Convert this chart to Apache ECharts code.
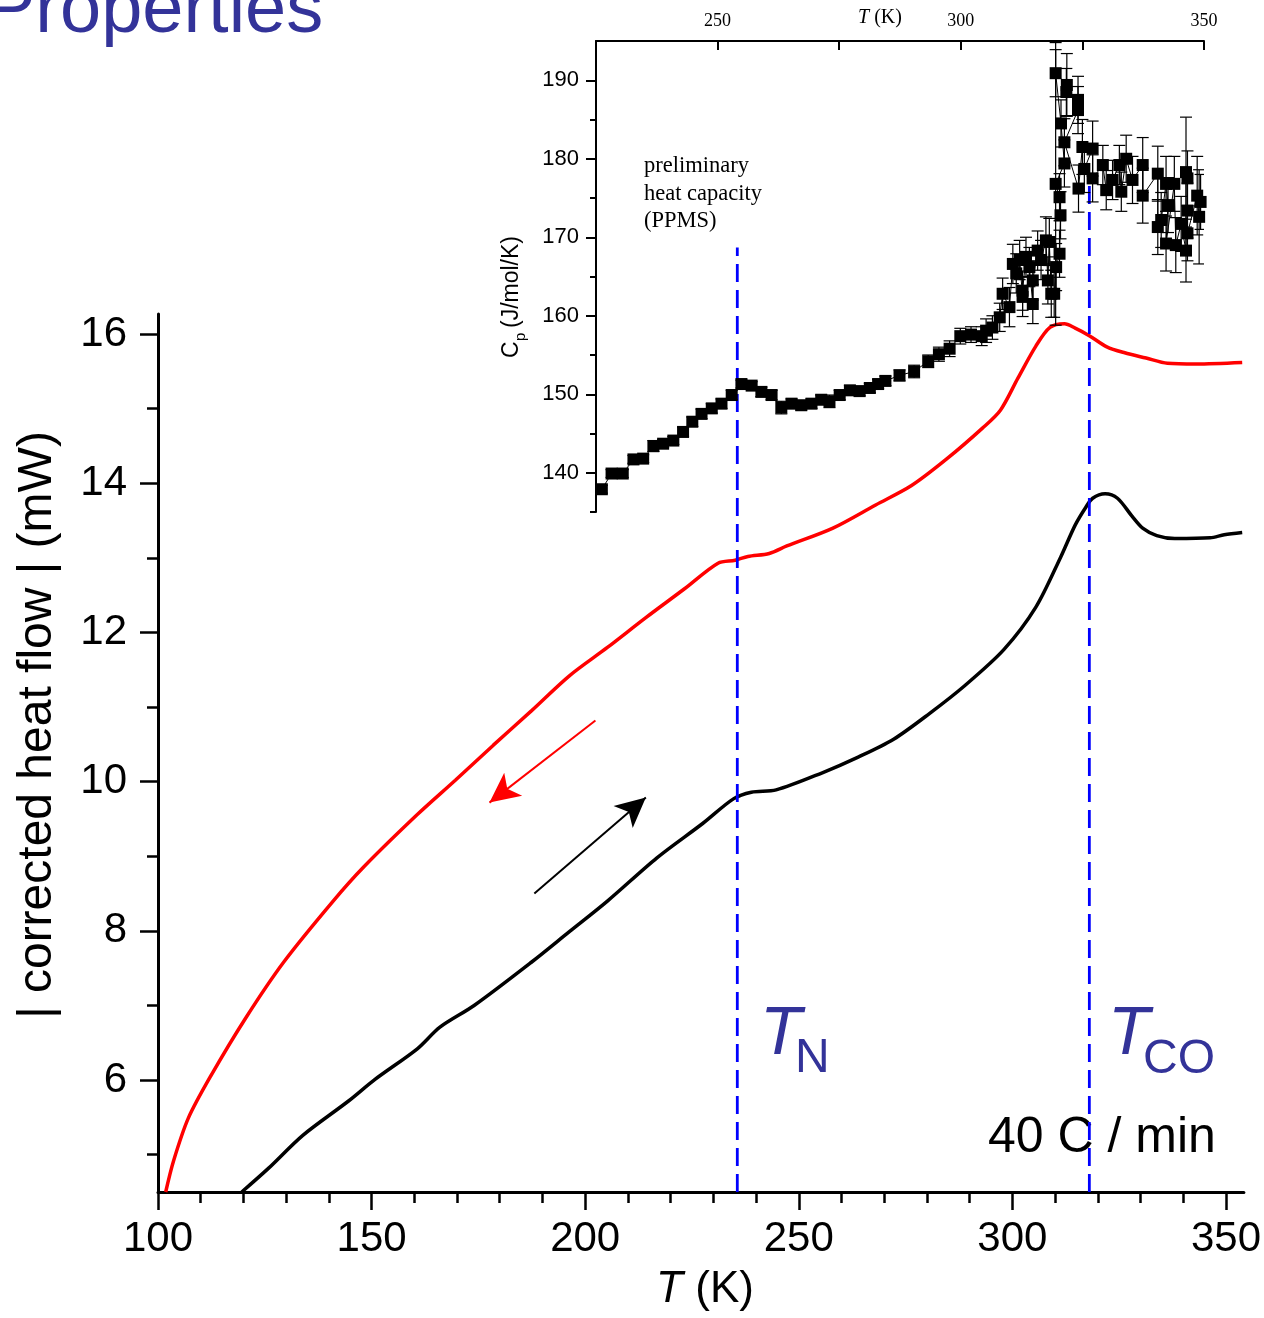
<!DOCTYPE html>
<html><head><meta charset="utf-8">
<script src="https://cdn.jsdelivr.net/npm/echarts@6/dist/echarts.min.js"></script>
<style>html,body{margin:0;padding:0;background:#fff}#c{width:1264px;height:1318px}</style>
</head><body><div id="c"></div>
<script>
// ---- data: DSC corrected heat flow (main panel) ----
const redT = [101.8, 103.6, 107.1, 112.5, 120.5, 129.4, 141.0, 148.2, 160.7, 169.6, 178.5, 187.4, 196.3, 205.2, 214.2, 223.1, 231.1, 235.1, 238.1, 243.1, 247.2, 258.0, 268.0, 276.4, 284.7, 293.0, 297.2, 301.3, 305.5, 308.8, 312.2, 314.7, 318.0, 322.1, 326.3, 331.3, 336.3, 343.0, 353.8];
const redV = [4.5, 4.91, 5.49, 6.07, 6.83, 7.58, 8.40, 8.86, 9.56, 10.02, 10.49, 10.95, 11.42, 11.80, 12.20, 12.58, 12.93, 12.97, 13.02, 13.06, 13.16, 13.40, 13.71, 13.97, 14.33, 14.74, 14.98, 15.41, 15.84, 16.09, 16.14, 16.08, 15.98, 15.83, 15.75, 15.68, 15.61, 15.60, 15.62];
const blackT = [119.6, 125.9, 133.9, 144.6, 150.8, 160.7, 166.0, 174.0, 187.4, 196.3, 205.2, 216.8, 227.5, 234.7, 238.9, 244.7, 255.5, 263.9, 272.2, 280.5, 288.9, 298.0, 305.5, 311.3, 314.7, 317.2, 318.8, 321.7, 324.6, 328.0, 330.5, 333.8, 338.0, 346.3, 349.6, 353.8];
const blackV = [4.5, 4.82, 5.26, 5.72, 6.01, 6.42, 6.71, 7.00, 7.58, 7.99, 8.40, 8.98, 9.44, 9.77, 9.86, 9.89, 10.12, 10.33, 10.57, 10.91, 11.29, 11.77, 12.34, 13.01, 13.44, 13.68, 13.80, 13.86, 13.80, 13.56, 13.40, 13.30, 13.26, 13.27, 13.31, 13.34];

// ---- data: preliminary heat capacity (PPMS), inset ----
const cpT = [226.2, 228.2, 230.5, 232.7, 234.7, 236.8, 238.8, 240.9, 242.9, 244.8, 246.7, 248.8, 250.8, 252.9, 254.9, 257.0, 259.0, 261.1, 263.1, 265.2, 267.2, 269.3, 271.3, 273.0, 275.1, 277.2, 279.2, 281.3, 283.0, 284.5, 287.4, 290.4, 293.3, 295.5, 297.7, 299.9, 302.1, 304.3, 305.2, 306.5, 308.0, 308.6, 310.0, 310.7, 311.4, 312.1, 312.7, 312.7, 313.4, 314.1, 314.8, 314.8, 315.8, 316.5, 317.5, 317.9, 318.2, 318.6, 319.2, 319.6, 320.3, 320.5, 320.3, 319.5, 321.3, 320.6, 319.5, 321.8, 321.7, 324.1, 324.1, 321.3, 324.2, 325.0, 327.1, 325.4, 327.1, 329.2, 329.9, 331.2, 332.6, 333.0, 334.0, 335.3, 337.4, 337.4, 340.5, 340.5, 341.2, 342.2, 342.6, 342.2, 343.9, 344.2, 345.3, 346.3, 346.3, 346.6, 346.6, 346.6, 348.6, 349.0, 349.3];
const cpV = [137.9, 139.9, 139.9, 141.7, 141.8, 143.4, 143.7, 144.1, 145.2, 146.5, 147.5, 148.2, 148.8, 149.9, 151.3, 151.1, 150.3, 149.9, 148.3, 148.8, 148.6, 148.8, 149.3, 149.1, 149.9, 150.5, 150.4, 150.8, 151.3, 151.7, 152.4, 152.9, 154.2, 155.1, 155.8, 157.4, 157.6, 157.4, 158.1, 158.5, 159.8, 162.8, 161.1, 166.6, 165.4, 167.1, 162.4, 163.2, 167.5, 166.2, 161.5, 164.5, 168.3, 167.1, 169.6, 164.5, 169.4, 162.8, 162.8, 166.2, 167.9, 172.8, 175.1, 176.8, 179.4, 184.5, 190.9, 189.4, 188.5, 187.5, 186.2, 182.1, 176.2, 181.5, 181.3, 178.7, 177.5, 179.2, 176.0, 177.3, 179.2, 175.8, 180.0, 177.3, 179.2, 175.3, 178.1, 171.3, 172.2, 176.8, 174.1, 169.2, 176.8, 169.0, 171.7, 168.3, 178.3, 177.5, 173.4, 170.5, 175.3, 172.6, 174.5];
const cpErr = [0.5, 0.5, 0.5, 0.5, 0.5, 0.7, 0.5, 0.5, 0.6, 0.6, 0.6, 0.6, 0.6, 0.6, 0.5, 0.5, 0.6, 0.6, 0.8, 0.6, 0.6, 0.6, 0.6, 0.8, 0.6, 0.6, 0.6, 0.6, 0.6, 0.6, 0.7, 0.8, 0.8, 0.9, 1.0, 1.0, 1.0, 1.2, 1.5, 1.5, 1.8, 2.0, 2.5, 2.5, 2.5, 2.5, 2.5, 2.5, 2.5, 2.5, 2.5, 2.5, 2.5, 2.5, 3, 3, 3, 3, 3, 3, 3, 3, 3, 18, 3, 3, 3, 4, 3, 3, 3, 3, 3, 3.5, 3.5, 3, 3, 2.5, 2.5, 2.5, 2.5, 2.5, 3, 3, 3.5, 3.5, 3.5, 3.5, 3.5, 3.5, 3.5, 3.5, 3.5, 3.5, 3.5, 4, 7, 3.5, 3.5, 3.5, 5, 6, 3.5];

// ---- tick values ----
const mainXTicks = [100, 150, 200, 250, 300, 350];
const mainXMinor = [110, 120, 130, 140, 160, 170, 180, 190, 210, 220, 230, 240, 260, 270, 280, 290, 310, 320, 330, 340];
const mainYTicks = [6, 8, 10, 12, 14, 16];
const mainYMinor = [5, 7, 9, 11, 13, 15];
const insetYTicks = [140, 150, 160, 170, 180, 190];
const insetYMinor = [135, 145, 155, 165, 175, 185];

// ---- annotations ----
const transitionT = [235.1, 317.2];      // T_N, T_CO dashed lines (main T scale)
const transitionTop = [17.16, 18.13];    // upper end of the dashed lines (main y units)
const yBase = 4.5;
const arrowRed = [[202.4, 10.82], [177.6, 9.72]];
const arrowBlack = [[188.1, 8.50], [214.2, 9.79]];

const SANS = "'Liberation Sans', Arial, Helvetica, sans-serif";
const SERIF = "'Liberation Serif', 'Times New Roman', serif";
const zip = (a, b) => a.map((v, i) => [v, b[i]]);
const BLUE = '#333399';

function errRender(params, api) {
  const x = api.value(0), lo = api.value(1), hi = api.value(2);
  const p1 = api.coord([x, hi]), p2 = api.coord([x, lo]);
  const c = 6, st = {stroke: '#000', lineWidth: 1.2};
  return {type: 'group', children: [
    {type: 'line', shape: {x1: p1[0], y1: p1[1], x2: p2[0], y2: p2[1]}, style: st},
    {type: 'line', shape: {x1: p1[0] - c, y1: p1[1], x2: p1[0] + c, y2: p1[1]}, style: st},
    {type: 'line', shape: {x1: p2[0] - c, y1: p2[1], x2: p2[0] + c, y2: p2[1]}, style: st}
  ]};
}

function arrowML(pts, color) {
  return {
    silent: true, animation: false,
    symbol: ['none', 'arrow'],
    label: {show: false},
    lineStyle: {color: color, width: 2, type: 'solid'},
    emphasis: {disabled: true},
    data: [[{coord: pts[0], symbol: 'none'}, {coord: pts[1], symbol: 'arrow', symbolSize: [22, 30]}]]
  };
}

const txt = (o) => ({type: 'text', silent: true, ...o});
const st = (text, font, fill, align, extra) => Object.assign({text, font, fill, align, verticalAlign: 'middle', textAlign: align, textVerticalAlign: 'middle'}, extra || {});

const option = {
  animation: false,
  backgroundColor: '#fff',
  grid: [
    {left: 158, top: 314, width: 1090, height: 878},
    {left: 596, top: 41, width: 608, height: 471},
    {left: 158, top: 170, width: 1090, height: 1022}
  ],
  xAxis: [
    {gridIndex: 0, type: 'value', position: 'bottom', min: 100, max: 354.2,
     axisLine: {show: true, onZero: false, lineStyle: {color: '#000', width: 3}},
     axisTick: {show: true, inside: false, length: 18, customValues: mainXTicks, lineStyle: {color: '#000', width: 2.5}},
     axisLabel: {show: true, customValues: mainXTicks, margin: 26, color: '#000', fontSize: 42, fontFamily: SANS},
     splitLine: {show: false}},
    {gridIndex: 0, type: 'value', position: 'bottom', min: 100, max: 354.2,
     axisLine: {show: false, onZero: false},
     axisTick: {show: true, inside: false, length: 11, customValues: mainXMinor, lineStyle: {color: '#000', width: 2.5}},
     axisLabel: {show: false}, splitLine: {show: false}},
    {gridIndex: 1, type: 'value', position: 'top', min: 225, max: 350, interval: 25,
     axisLine: {show: true, onZero: false, lineStyle: {color: '#000', width: 2}},
     axisTick: {show: true, inside: true, length: 9, lineStyle: {color: '#000', width: 2}},
     axisLabel: {show: true, formatter: v => (v % 50 === 0 ? String(v) : ''), margin: 11, color: '#000', fontSize: 18, fontFamily: SERIF},
     splitLine: {show: false}},
    {gridIndex: 2, type: 'value', min: 100, max: 354.2, show: false}
  ],
  yAxis: [
    {gridIndex: 0, type: 'value', position: 'left', min: 4.5, max: 16.27,
     axisLine: {show: true, onZero: false, lineStyle: {color: '#000', width: 3}},
     axisTick: {show: true, inside: false, length: 18, customValues: mainYTicks, lineStyle: {color: '#000', width: 2.5}},
     axisLabel: {show: true, customValues: mainYTicks, margin: 31, color: '#000', fontSize: 42, fontFamily: SANS},
     splitLine: {show: false}},
    {gridIndex: 0, type: 'value', position: 'left', min: 4.5, max: 16.27,
     axisLine: {show: false, onZero: false},
     axisTick: {show: true, inside: false, length: 11, customValues: mainYMinor, lineStyle: {color: '#000', width: 2.5}},
     axisLabel: {show: false}, splitLine: {show: false}},
    {gridIndex: 1, type: 'value', position: 'left', min: 135, max: 195,
     axisLine: {show: true, onZero: false, lineStyle: {color: '#000', width: 2}},
     axisTick: {show: true, inside: false, length: 10, customValues: insetYTicks, lineStyle: {color: '#000', width: 2}},
     axisLabel: {show: true, customValues: insetYTicks, margin: 17, color: '#000', fontSize: 22, fontFamily: SANS},
     splitLine: {show: false}},
    {gridIndex: 1, type: 'value', position: 'left', min: 135, max: 195,
     axisLine: {show: false, onZero: false},
     axisTick: {show: true, inside: false, length: 6, customValues: insetYMinor, lineStyle: {color: '#000', width: 2}},
     axisLabel: {show: false}, splitLine: {show: false}},
    {gridIndex: 2, type: 'value', min: 4.5, max: 18.2, show: false}
  ],
  series: [
    {type: 'line', name: 'cooling', xAxisIndex: 0, yAxisIndex: 0, data: zip(redT, redV), smooth: 0.3,
     symbol: 'none', showSymbol: false, lineStyle: {color: '#ff0000', width: 3.5}, z: 3,
     markLine: arrowML(arrowRed, '#ff0000')},
    {type: 'line', name: 'heating', xAxisIndex: 0, yAxisIndex: 0, data: zip(blackT, blackV), smooth: 0.3,
     symbol: 'none', showSymbol: false, lineStyle: {color: '#000', width: 3.5}, z: 3,
     markLine: arrowML(arrowBlack, '#000')},
    {type: 'line', name: 'TN', xAxisIndex: 3, yAxisIndex: 4, data: [[transitionT[0], yBase], [transitionT[0], transitionTop[0]]],
     symbol: 'none', lineStyle: {color: '#0000ff', width: 2.8, type: [18, 8]}, z: 4},
    {type: 'line', name: 'TCO', xAxisIndex: 3, yAxisIndex: 4, data: [[transitionT[1], yBase], [transitionT[1], transitionTop[1]]],
     symbol: 'none', lineStyle: {color: '#0000ff', width: 2.8, type: [18, 8]}, z: 4},
    {type: 'custom', name: 'Cp err', xAxisIndex: 2, yAxisIndex: 2,
     data: cpT.map((t, i) => [t, cpV[i] - cpErr[i], cpV[i] + cpErr[i]]),
     encode: {x: 0, y: [1, 2]}, renderItem: errRender, z: 5, clip: true, silent: true},
    {type: 'line', name: 'Cp', xAxisIndex: 2, yAxisIndex: 2, data: zip(cpT, cpV),
     symbol: 'rect', symbolSize: 12, showSymbol: true, showAllSymbol: true,
     itemStyle: {color: '#000'}, lineStyle: {color: '#000', width: 1}, z: 6, silent: true}
  ],
  graphic: [
    txt({x: -14, y: 12, style: st('Properties', '74px ' + SANS, BLUE, 'left')}),
    // main y-axis title
    txt({x: 38, y: 725, rotation: Math.PI / 2, style: st('| corrected heat flow | (mW)', '48px ' + SANS, '#000', 'center')}),
    // main x-axis title
    txt({x: 705, y: 1290, style: st('{i|T} (K)', '44px ' + SANS, '#000', 'center', {rich: {i: {font: 'italic 44px ' + SANS, fill: '#000'}}})}),
    // inset y-axis title
    txt({x: 512, y: 358, rotation: Math.PI / 2, style: st('C', '23px ' + SANS, '#000', 'left')}),
    txt({x: 521, y: 341, rotation: Math.PI / 2, style: st('p', '15px ' + SANS, '#000', 'left')}),
    txt({x: 512, y: 328, rotation: Math.PI / 2, style: st('(J/mol/K)', '23px ' + SANS, '#000', 'left')}),
    // inset x-axis title (top)
    txt({x: 880, y: 18, style: st('{i|T} (K)', '20px ' + SERIF, '#000', 'center', {rich: {i: {font: 'italic 20px ' + SERIF, fill: '#000'}}})}),
    // PPMS note
    txt({x: 644, y: 166, style: st('preliminary', '22.5px ' + SERIF, '#000', 'left')}),
    txt({x: 644, y: 194, style: st('heat capacity', '22.5px ' + SERIF, '#000', 'left')}),
    txt({x: 644, y: 221, style: st('(PPMS)', '22.5px ' + SERIF, '#000', 'left')}),
    // transition labels
    txt({x: 760, y: 1035, style: st('T', 'italic 68px ' + SANS, BLUE, 'left')}),
    txt({x: 795, y: 1059, style: st('N', '48px ' + SANS, BLUE, 'left')}),
    txt({x: 1108, y: 1035, style: st('T', 'italic 68px ' + SANS, BLUE, 'left')}),
    txt({x: 1143, y: 1060, style: st('CO', '48px ' + SANS, BLUE, 'left')}),
    txt({x: 988, y: 1138, style: st('40 C / min', '50px ' + SANS, '#000', 'left')})
  ]
};

const chart = echarts.init(document.getElementById('c'), null, {renderer: 'canvas'});
chart.setOption(option);
</script>
</body></html>
